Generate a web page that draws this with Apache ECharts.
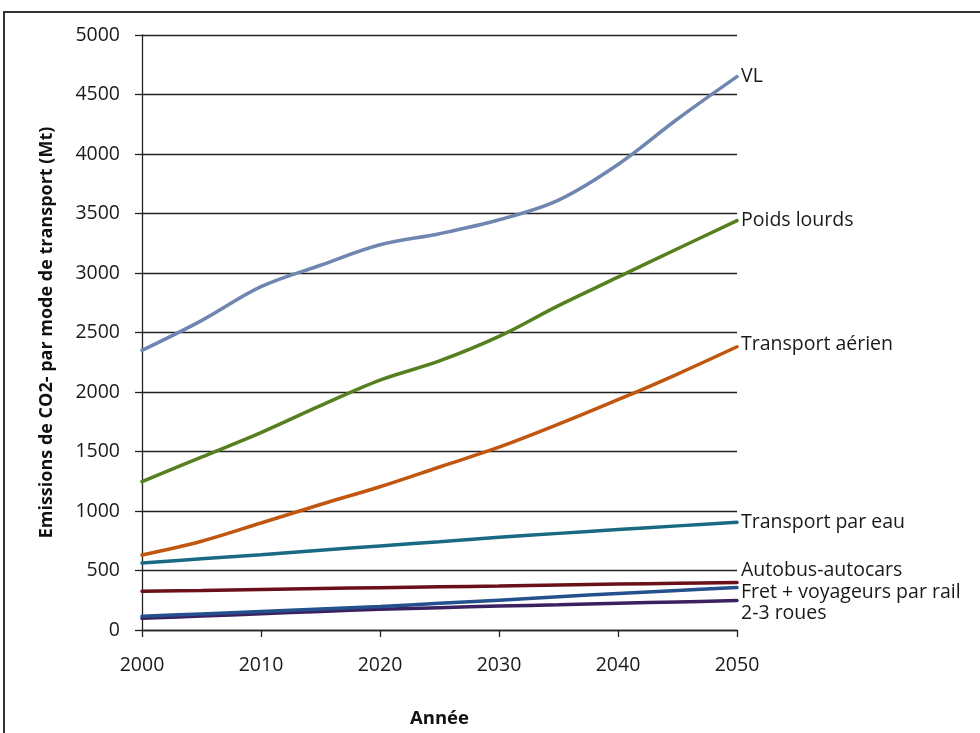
<!DOCTYPE html>
<html>
<head>
<meta charset="utf-8">
<script src="https://cdn.jsdelivr.net/npm/echarts@6/dist/echarts.min.js"></script>
<style>
  html, body { margin: 0; padding: 0; background: #ffffff; }
  #chart { width: 980px; height: 733px; }
</style>
</head>
<body>
<div id="chart"></div>
<script>
// Emissions de CO2 par mode de transport, 2000-2050 (Mt)
const years = [2000, 2005, 2010, 2015, 2020, 2025, 2030, 2035, 2040, 2045, 2050];

const vl            = [2350, 2600, 2885, 3065, 3237, 3330, 3447, 3613, 3912, 4294, 4650];
const poidsLourds   = [1247, 1453, 1659, 1885, 2100, 2261, 2467, 2726, 2965, 3204, 3440];
const aerien        = [630, 746, 899, 1055, 1204, 1370, 1536, 1729, 1935, 2151, 2380];
const eau           = [563, 598, 633, 670, 706, 742, 779, 812, 845, 875, 905];
const autobus       = [325, 332, 340, 348, 356, 363, 370, 378, 386, 393, 400];
const fretRail      = [115, 135, 155, 176, 198, 224, 251, 279, 307, 332, 357];
const deuxRoues     = [98, 117, 136, 156, 174, 188, 201, 212, 224, 236, 247];

const seriesNames = ['VL', 'Poids lourds', 'Transport aérien', 'Transport par eau',
                     'Autobus-autocars', 'Fret + voyageurs par rail', '2-3 roues'];
const seriesValues = [vl, poidsLourds, aerien, eau, autobus, fretRail, deuxRoues];
const seriesColors = ['#6f87b0', '#56801f', '#c0560f', '#186a82', '#6a1019', '#24508e', '#3b215f'];
// vertical nudges for the end labels so the bottom three do not overlap
const labelShift = [0, 0, -2, 0, -12, 5, 13];

const yTicks = { min: 0, max: 5000, step: 500 };
const xTicks = { min: 2000, max: 2050, step: 10 };

const FONT = 'Open Sans';

const series = seriesNames.map((name, i) => ({
  name: name,
  type: 'line',
  smooth: 0.35,
  symbol: 'none',
  lineStyle: { width: 3.5, color: seriesColors[i], cap: 'round' },
  itemStyle: { color: seriesColors[i] },
  z: 10 - i,
  endLabel: {
    show: true,
    distance: 4,
    offset: [0, labelShift[i]],
    formatter: name,
    color: '#1a1a1a',
    fontFamily: FONT,
    fontSize: 19.5
  },
  data: years.map((yr, k) => [yr, seriesValues[i][k]])
}));

const chart = echarts.init(document.getElementById('chart'), null, { renderer: 'canvas' });
chart.setOption({
  backgroundColor: '#ffffff',
  animation: false,
  grid: { left: 142, right: 243, top: 35, bottom: 103, containLabel: false },
  xAxis: {
    type: 'value',
    min: xTicks.min, max: xTicks.max, interval: xTicks.step,
    name: 'Année',
    nameLocation: 'middle',
    nameGap: 79,
    nameTextStyle: { fontFamily: FONT, fontSize: 18.5, fontWeight: 'bold', color: '#111' },
    axisLine: { show: true, lineStyle: { color: '#222', width: 1.3 } },
    axisTick: { show: true, length: 7, lineStyle: { color: '#222', width: 1.3 } },
    axisLabel: { margin: 25, fontFamily: FONT, fontSize: 19.5, color: '#1a1a1a',
                 formatter: v => String(v) },
    splitLine: { show: false }
  },
  yAxis: {
    type: 'value',
    min: yTicks.min, max: yTicks.max, interval: yTicks.step,
    name: 'Emissions de CO2- par mode de transport (Mt)',
    nameLocation: 'middle',
    nameGap: 86,
    nameTextStyle: { fontFamily: FONT, fontSize: 18, fontWeight: 'bold', color: '#111' },
    axisLine: { show: true, lineStyle: { color: '#222', width: 1.3 } },
    axisTick: { show: true, length: 7, lineStyle: { color: '#222', width: 1.3 } },
    axisLabel: { margin: 22, fontFamily: FONT, fontSize: 19.5, color: '#1a1a1a',
                 formatter: v => String(v) },
    splitLine: { show: true, lineStyle: { color: '#222', width: 1.3 } }
  },
  graphic: [{
    type: 'rect',
    shape: { x: 4, y: 12, width: 1200, height: 1000 },
    style: { fill: 'none', stroke: '#333', lineWidth: 2 },
    silent: true
  }],
  series: series
});
</script>
</body>
</html>
